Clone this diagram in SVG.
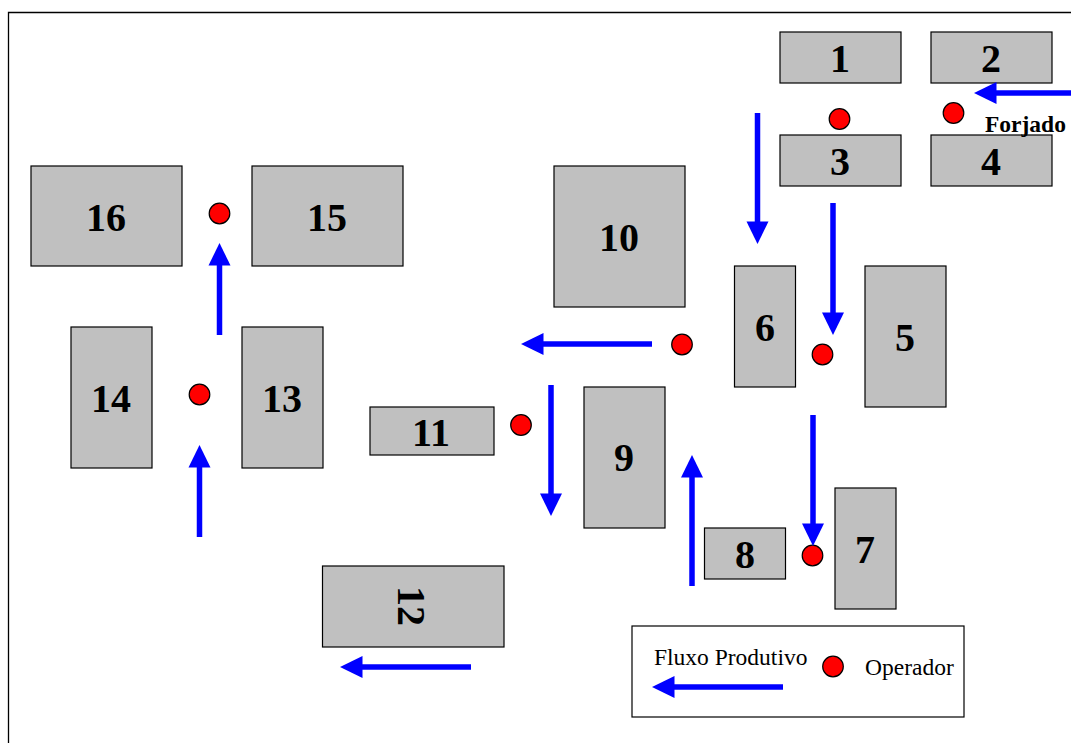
<svg xmlns="http://www.w3.org/2000/svg" width="1071" height="743" viewBox="0 0 1071 743">
<style>
.m{fill:#c0c0c0;stroke:#000;stroke-width:1.200}
.n{font-family:"Liberation Serif",serif;font-weight:bold;font-size:40px;text-anchor:middle;fill:#000}
.o{fill:#f00;stroke:#000;stroke-width:1.200}
.f{fill:none;stroke:#00f;stroke-width:5.500}
.h{fill:#00f}
.t{font-family:"Liberation Serif",serif;font-size:23.500px;fill:#000}
</style>
<rect width="1071" height="743" fill="#fff"/>
<path d="M8.500 743V12.500H1071" fill="none" stroke="#000" stroke-width="1.300"/>
<g id="m1"><rect class="m" x="780" y="32" width="121" height="51"/><text class="n" x="840" y="72">1</text></g>
<g id="m2"><rect class="m" x="931" y="32" width="121" height="51"/><text class="n" x="991" y="72">2</text></g>
<g id="m3"><rect class="m" x="780" y="135" width="121" height="51"/><text class="n" x="840" y="175">3</text></g>
<g id="m4"><rect class="m" x="931" y="135" width="121" height="51"/><text class="n" x="991" y="175">4</text></g>
<g id="m5"><rect class="m" x="865" y="266" width="81" height="141"/><text class="n" x="905" y="351">5</text></g>
<g id="m6"><rect class="m" x="734.500" y="266" width="61" height="121"/><text class="n" x="765" y="341">6</text></g>
<g id="m7"><rect class="m" x="835" y="488" width="61" height="121"/><text class="n" x="865" y="563">7</text></g>
<g id="m8"><rect class="m" x="704.500" y="528" width="81" height="51"/><text class="n" x="745" y="568">8</text></g>
<g id="m9"><rect class="m" x="584" y="387" width="81" height="141"/><text class="n" x="624" y="471">9</text></g>
<g id="m10"><rect class="m" x="554" y="166" width="131" height="141"/><text class="n" x="619" y="251">10</text></g>
<g id="m11"><rect class="m" x="370" y="407" width="124" height="48"/><text class="n" x="431" y="446">11</text></g>
<g id="m12"><rect class="m" x="322.500" y="566" width="181.500" height="81"/><text class="n" transform="translate(398 606) rotate(90)" x="0" y="0">12</text></g>
<g id="m13"><rect class="m" x="242" y="327" width="81" height="141"/><text class="n" x="282" y="412">13</text></g>
<g id="m14"><rect class="m" x="71" y="327" width="81" height="141"/><text class="n" x="111" y="412">14</text></g>
<g id="m15"><rect class="m" x="252" y="166" width="151" height="100"/><text class="n" x="327" y="231">15</text></g>
<g id="m16"><rect class="m" x="31" y="166" width="151" height="100"/><text class="n" x="106" y="231">16</text></g>
<g id="operators">
<circle class="o" cx="839.500" cy="119" r="10.300"/><circle class="o" cx="953.500" cy="113" r="10.300"/>
<circle class="o" cx="822.500" cy="354.500" r="10.300"/><circle class="o" cx="682" cy="344.500" r="10.300"/>
<circle class="o" cx="812.500" cy="555.500" r="10.300"/><circle class="o" cx="521" cy="425" r="10.300"/>
<circle class="o" cx="199.500" cy="394.500" r="10.300"/><circle class="o" cx="219.500" cy="213.500" r="10.300"/>
</g>
<g id="connectors">
<path class="f" d="M1071 93H993"/><path class="h" d="M974 93l22.500-11v22z"/>
<path class="f" d="M757.500 113V223"/><path class="h" d="M757.500 244l-11-22.500h22z"/>
<path class="f" d="M833 203V314"/><path class="h" d="M833 335l-11-22.500h22z"/>
<path class="f" d="M813 415V525"/><path class="h" d="M813 546l-11-22.500h22z"/>
<path class="f" d="M692 586V476"/><path class="h" d="M692 455l-11 22.500h22z"/>
<path class="f" d="M652 344H542"/><path class="h" d="M521 344l22.500-11v22z"/>
<path class="f" d="M551 385V495"/><path class="h" d="M551 516l-11-22.500h22z"/>
<path class="f" d="M471 667H361"/><path class="h" d="M340 667l22.500-11v22z"/>
<path class="f" d="M199.500 537V466"/><path class="h" d="M199.500 445l-11 22.500h22z"/>
<path class="f" d="M219.500 335V264"/><path class="h" d="M219.500 243l-11 22.500h22z"/>
</g>
<text class="n" style="font-size:23.500px;text-anchor:start" x="985" y="132">Forjado</text>
<g id="legend">
<rect x="632" y="626" width="332" height="91" fill="#fff" stroke="#000" stroke-width="1.200"/>
<text class="t" x="654" y="665">Fluxo Produtivo</text>
<text class="t" x="865" y="675">Operador</text>
<circle class="o" cx="833" cy="666.500" r="10.300"/>
<path class="f" d="M783 687H672"/><path class="h" d="M652 687l22.500-11v22z"/>
</g>
</svg>
